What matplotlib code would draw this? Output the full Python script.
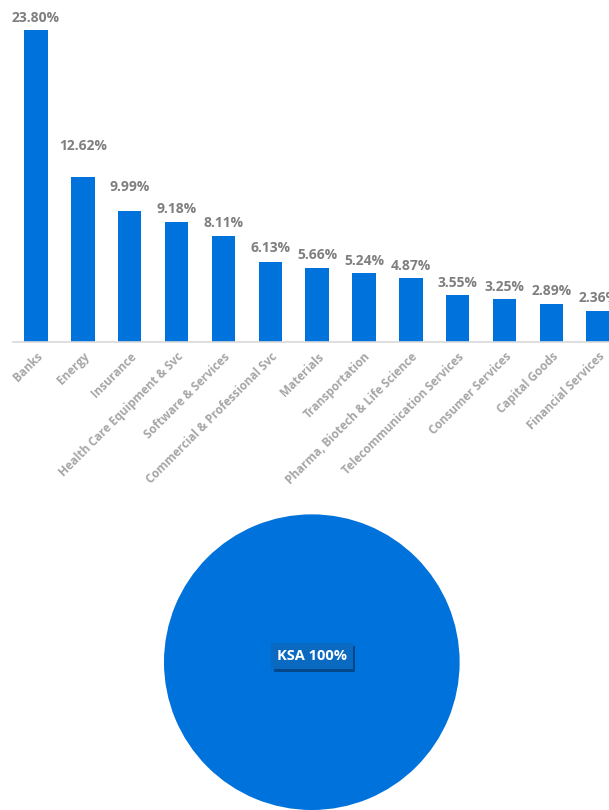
import matplotlib.pyplot as plt
import matplotlib.patheffects as pe

plt.rcParams['font.family'] = ['Open Sans', 'DejaVu Sans']

sectors = ['Banks', 'Energy', 'Insurance', 'Health Care Equipment & Svc',
           'Software & Services', 'Commercial & Professional Svc', 'Materials',
           'Transportation', 'Pharma, Biotech & Life Science',
           'Telecommunication Services', 'Consumer Services', 'Capital Goods',
           'Financial Services']
weights = [23.80, 12.62, 9.99, 9.18, 8.11, 6.13, 5.66, 5.24, 4.87, 3.55, 3.25, 2.89, 2.36]

country = ['KSA']
country_w = [100]

blue = '#0072DB'

fig = plt.figure(figsize=(6.09, 8.10), dpi=100)

# bar chart (right side is cropped off in the original)
ax = fig.add_axes([0.0207, 0.578, 1.0, 0.404])
x = range(len(sectors))
bars = ax.bar(x, weights, width=0.5, color=blue)
ax.set_xlim(-0.5, len(sectors) - 0.5)
ax.set_ylim(0, 25)
# excel pushed a couple of labels up
lift = [0, 13, 8, 0, 0, 1, 0, 0, 0, 0, 0, 0, 0]
for b, v, l in zip(bars, weights, lift):
    ax.annotate(f'{v:.2f}%', (b.get_x() + b.get_width() / 2, v), xytext=(0, 4 + l),
                textcoords='offset points', ha='center', va='bottom',
                fontsize=10, fontweight='bold', color='#7f7f7f')
ax.set_xticks(list(x))
ax.set_xticklabels(sectors, rotation=45, ha='right', rotation_mode='anchor',
                   fontsize=8.5, fontweight='bold', color='#a6a6a6')
ax.tick_params(axis='x', length=0, pad=6)
ax.set_yticks([])
for s in ['top', 'right', 'left']:
    ax.spines[s].set_visible(False)
ax.spines['bottom'].set_color('#d9d9d9')
ax.spines['bottom'].set_linewidth(1.2)

# pie
ax2 = fig.add_axes([0.269, 0.0, 0.486, 0.365])
ax2.pie(country_w, colors=[blue], startangle=90)
ax2.set_xlim(-1, 1)
ax2.set_ylim(-1, 1)
ax2.set_aspect('equal')
t = ax2.text(0, 0.04, f'{country[0]} {country_w[0]}%', ha='center', va='center',
             fontsize=10.5, fontweight='bold', color='white',
             bbox=dict(boxstyle='square,pad=0.4', facecolor='#0A6AC2', edgecolor='none'))
t.get_bbox_patch().set_path_effects([pe.SimplePatchShadow(offset=(2, -2), alpha=0.5), pe.Normal()])

fig.savefig('out.png', dpi=100)
